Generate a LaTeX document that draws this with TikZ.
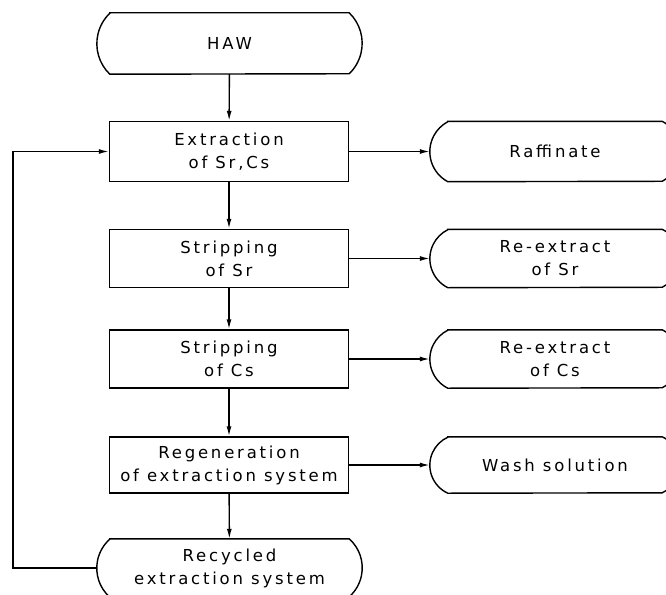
\documentclass[tikz,border=0pt]{standalone}
\usepackage{fontspec}
\setmainfont{DejaVu Sans}[LetterSpace=17]
\usetikzlibrary{arrows.meta}
\newcommand\termoutline[4]{% name, bulge, radius, angle
  \draw[lineall] ([xshift=#2]#1.north west) -- ([xshift=-#2]#1.north east)
    arc[start angle=#4, end angle=-#4, radius=#3]
    -- ([xshift=#2]#1.south west)
    arc[start angle=180+#4, end angle=180-#4, radius=#3] -- cycle;}
\begin{document}
\begin{tikzpicture}[x=1pt,y=1pt,
  lineall/.style={line width=1.4pt},
  txt/.style={font=\fontsize{16.5}{23}\selectfont, align=center, inner sep=0pt},
  procbox/.style={txt, draw, lineall, minimum width=239pt, minimum height=58pt},
  termnode/.style={txt, minimum width=265pt, minimum height=61pt},
  outnode/.style={txt, minimum width=250pt, minimum height=58pt},
  flow/.style={lineall, -{Latex[length=10pt,width=5pt]}}]
\useasboundingbox (0,0) rectangle (666,-594);
\fill[white] (0,0) rectangle (666,-594);
% main column
\node[termnode] (haw) at (229.5,-43.5) {HAW};
\node[procbox, minimum height=60pt] (ext) at (229,-151.5) {Extraction\\of Sr,Cs};
\node[procbox] (ssr) at (229,-258.5) {Stripping\\of Sr};
\node[procbox] (scs) at (229,-359) {Stripping\\of Cs};
\node[procbox, minimum height=56pt] (reg) at (229,-465) {Regeneration\\of extraction system};
\node[termnode, minimum height=58pt] (rec) at (229.5,-568) {Recycled\\extraction system};
% right column
\node[outnode, minimum height=60pt] (raf) at (555,-151.5) {Raffinate};
\node[outnode] (rsr) at (555,-258.5) {Re-extract\\of Sr};
\node[outnode] (rcs) at (555,-359) {Re-extract\\of Cs};
\node[outnode, minimum height=56pt] (wash) at (555,-465) {Wash solution};
% outlines of terminal shapes
\termoutline{haw}{13}{42.3}{46.1}
\termoutline{rec}{13}{38.8}{48.4}
\termoutline{raf}{18}{34}{61.9}
\termoutline{rsr}{18}{32.4}{63.5}
\termoutline{rcs}{18}{32.4}{63.5}
\termoutline{wash}{18}{30.8}{65.4}
% connectors
\draw[flow] (haw) -- (ext);
\draw[flow] (ext) -- (ssr);
\draw[flow] (ssr) -- (scs);
\draw[flow] (scs) -- (reg);
\draw[flow] (reg) -- (rec);
\draw[flow] (ext) -- (raf);
\draw[flow] (ssr) -- (rsr);
\draw[flow] (scs) -- (rcs);
\draw[flow] (reg) -- (wash);
\coordinate (lc) at (13,-568);
\draw[flow] (rec.west) -- (lc) |- (ext.west);
\end{tikzpicture}
\end{document}
